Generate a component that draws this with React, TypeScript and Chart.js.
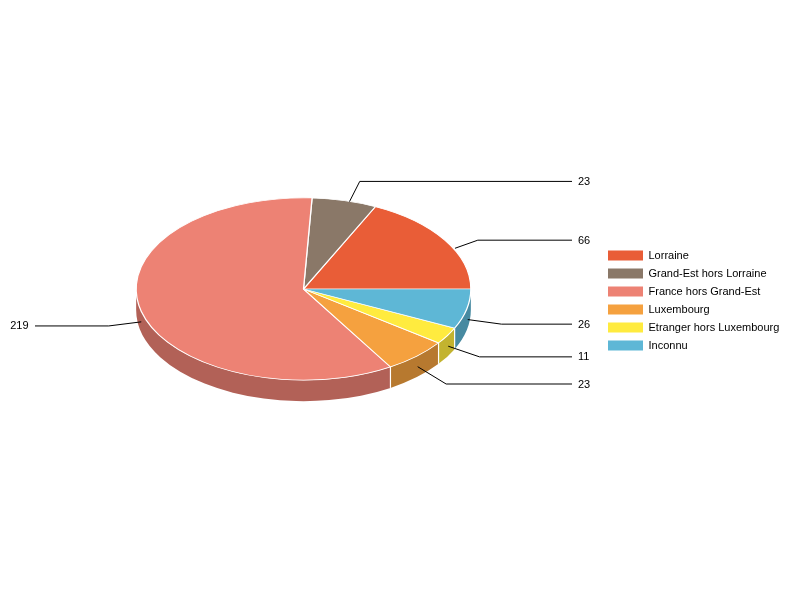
// App.tsx
import React, { useRef, useEffect } from "react";
import { Chart, registerables } from "chart.js";

Chart.register(...registerables);

const categories = [
  "Lorraine",
  "Grand-Est hors Lorraine",
  "France hors Grand-Est",
  "Luxembourg",
  "Etranger hors Luxembourg",
  "Inconnu",
];
const values = [66, 23, 219, 23, 11, 26];
const topColors = ["#e95d37", "#8a7868", "#ed8274", "#f5a13f", "#ffeb3f", "#5eb7d6"];
const wallColors = ["#b04729", "#67594e", "#b26157", "#b7792f", "#c3b32f", "#478aa1"];

// small corrections where the labels were spread apart
const anchorNudge = [[10, 8], [5, 1], [0, 0], [1, 0], [1, 0], [1, 0]];
const elbowNudge = [[1, 11], [6, 1], [4, -1], [4, 2], [0, 0], [-2, 0]];

const TILT = 91 / 167;
const WALL = 21;
const TAU = Math.PI * 2;

const tiltPlugin = {
  id: "tilt",
  afterLayout(chart: any) {
    // pie keeps the left part, legend sits on its own further right
    const area = chart.chartArea;
    area.right = 471.5;
    area.width = area.right - area.left;
    const legend = chart.legend;
    legend.left = 601;
    legend.right = legend.left + legend.width;
    legend.top = 243;
    legend.bottom = legend.top + legend.height;
  },
  beforeDatasetsDraw(chart: any) {
    const ctx = chart.ctx;
    const arcs = chart.getDatasetMeta(0).data;
    const { x: cx, y: cy, outerRadius: r } = arcs[0];
    ctx.save();
    // side wall, only the front half of the pie shows it
    arcs.forEach((arc: any, i: number) => {
      const a0 = Math.max(arc.startAngle, Math.PI);
      const a1 = Math.min(arc.endAngle, TAU);
      if (a1 <= a0) return;
      ctx.beginPath();
      ctx.ellipse(cx, cy, r, r * TILT, 0, -a0, -a1, true);
      ctx.ellipse(cx, cy + WALL, r, r * TILT, 0, -a1, -a0, false);
      ctx.closePath();
      ctx.fillStyle = wallColors[i];
      ctx.fill();
    });
    ctx.strokeStyle = "#ffffff";
    ctx.lineWidth = 1.2;
    arcs.forEach((arc: any) => {
      const a = arc.endAngle;
      if (a <= Math.PI || a >= TAU - 0.001) return;
      const x = cx + r * Math.cos(a);
      const y = cy - r * TILT * Math.sin(a);
      ctx.beginPath();
      ctx.moveTo(x, y);
      ctx.lineTo(x, y + WALL);
      ctx.stroke();
    });
    // flipped so the slices run counter-clockwise on screen
    ctx.translate(cx, cy);
    ctx.scale(1, -TILT);
    ctx.translate(-cx, -cy);
  },
  afterDatasetsDraw(chart: any) {
    const ctx = chart.ctx;
    ctx.restore();
    const arcs = chart.getDatasetMeta(0).data;
    const { x: cx, y: cy, outerRadius: r } = arcs[0];
    ctx.save();
    ctx.strokeStyle = "#000000";
    ctx.fillStyle = "#000000";
    ctx.lineWidth = 1;
    ctx.font = "11px 'Liberation Sans'";
    ctx.textBaseline = "middle";
    arcs.forEach((arc: any, i: number) => {
      const a = (arc.startAngle + arc.endAngle) / 2;
      const front = Math.sin(a) < 0 ? WALL / 2 : 0;
      const ax = cx + r * Math.cos(a) + anchorNudge[i][0];
      const ay = cy - r * TILT * Math.sin(a) + front + anchorNudge[i][1];
      const ex = cx + 205 * Math.cos(a) + elbowNudge[i][0];
      const ey = cy - 112 * Math.sin(a) + front + elbowNudge[i][1];
      const left = Math.cos(a) < 0;
      const endX = left ? 35 : 572;
      ctx.beginPath();
      ctx.moveTo(ax, ay);
      ctx.lineTo(ex, ey);
      ctx.lineTo(endX, ey);
      ctx.stroke();
      ctx.textAlign = left ? "right" : "left";
      ctx.fillText(String(values[i]), left ? 28.5 : 578, ey + 0.5);
    });
    ctx.restore();
  },
};

const App: React.FC = () => {
  const canvasRef = useRef<HTMLCanvasElement | null>(null);

  useEffect(() => {
    if (!canvasRef.current) return;
    Chart.defaults.font.family = "'Liberation Sans'";
    const chart = new Chart(canvasRef.current, {
      type: "pie",
      data: {
        labels: categories,
        datasets: [
          {
            data: values,
            backgroundColor: topColors,
            borderColor: "#ffffff",
            borderWidth: 1.3,
            clip: false,
          },
        ],
      },
      options: {
        animation: false,
        responsive: false,
        rotation: 90,
        layout: { padding: { left: 135.5, top: 121, bottom: 143, right: 0 } },
        plugins: {
          tooltip: { enabled: false },
          legend: {
            position: "right",
            align: "start",
            labels: {
              boxWidth: 35,
              boxHeight: 10,
              padding: 7,
              color: "#000000",
              font: { size: 11 },
              generateLabels: (c: any) =>
                (Chart as any).overrides.pie.plugins.legend.labels
                  .generateLabels(c)
                  .map((l: any) => ({ ...l, lineWidth: 0 })),
            },
          },
        },
      },
      plugins: [tiltPlugin],
    } as any);

    return () => chart.destroy();
  }, []);

  return (
    <canvas
      ref={canvasRef}
      width={800}
      height={600}
      style={{ position: "absolute", left: 0, top: 0, display: "block" }}
    />
  );
};

export default App;
